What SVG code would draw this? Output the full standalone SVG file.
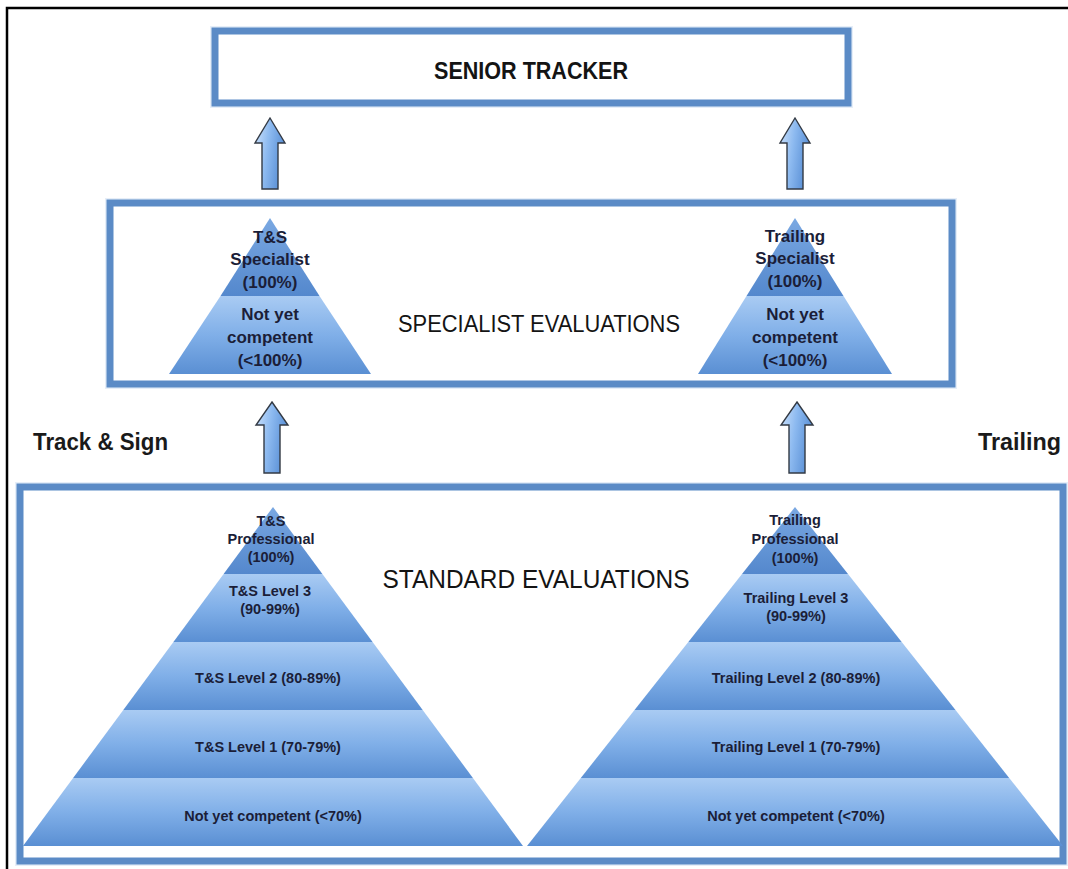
<svg xmlns="http://www.w3.org/2000/svg" width="1068" height="869" viewBox="0 0 1068 869">
<defs>
<linearGradient id="gBand" x1="0" y1="0" x2="0" y2="1">
<stop offset="0" stop-color="#a9cbf3"/>
<stop offset="0.5" stop-color="#80afe8"/>
<stop offset="1" stop-color="#5a8fd3"/>
</linearGradient>
<linearGradient id="gTip" x1="0" y1="0" x2="0" y2="1">
<stop offset="0" stop-color="#7aa8e2"/>
<stop offset="1" stop-color="#5488cd"/>
</linearGradient>
<linearGradient id="gArrow" x1="0" y1="0" x2="1" y2="0.3">
<stop offset="0" stop-color="#cfe3fb"/>
<stop offset="0.5" stop-color="#8dbaf0"/>
<stop offset="1" stop-color="#5a90d6"/>
</linearGradient>
<style>
.box{fill:#ffffff;stroke:#5b8bc6;stroke-width:7}
.halo{fill:none;stroke:#e6eef8;stroke-width:10}
.band{fill:url(#gBand)}
.tip{fill:url(#gTip)}
.arrow{fill:url(#gArrow);stroke:#333a44;stroke-width:1.4;stroke-linejoin:miter}
.lbl{font-family:"Liberation Sans",Arial,sans-serif;font-weight:bold;fill:#1b1e38;text-anchor:middle}
.big{font-family:"Liberation Sans",Arial,sans-serif;fill:#141414;text-anchor:middle}
.side{font-family:"Liberation Sans",Arial,sans-serif;font-weight:bold;fill:#1a1a1a}
</style>
</defs>
<rect width="1068" height="869" fill="#ffffff"/>
<path d="M7,869 V8 H1068" fill="none" stroke="#000000" stroke-width="2.5"/>

<g id="senior-tracker">
<rect class="halo" x="215" y="31" width="633" height="72"/>
<rect class="box" x="215" y="31" width="633" height="72"/>
<text class="big" x="531" y="79" font-size="23" font-weight="bold" textLength="194" lengthAdjust="spacingAndGlyphs">SENIOR TRACKER</text>
</g>

<g id="specialist-box">
<rect class="halo" x="110" y="203" width="842" height="181"/>
<rect class="box" x="110" y="203" width="842" height="181"/>
<text class="big" x="539" y="332" font-size="23" textLength="282" lengthAdjust="spacingAndGlyphs">SPECIALIST EVALUATIONS</text>
</g>

<g id="specialist-ts">
<polygon class="tip" points="270,218 319.5,296 220.5,296"/>
<polygon class="band" points="220.5,296 319.5,296 371,374 169,374"/>
<text class="lbl" font-size="17" x="270" y="243">T&amp;S</text>
<text class="lbl" font-size="17" x="270" y="265">Specialist</text>
<text class="lbl" font-size="17" x="270" y="288">(100%)</text>
<text class="lbl" font-size="17" x="270" y="320">Not yet</text>
<text class="lbl" font-size="17" x="270" y="343">competent</text>
<text class="lbl" font-size="17" x="270" y="366">(&lt;100%)</text>
</g>

<g id="specialist-trailing">
<polygon class="tip" points="795,218 843.5,296 746.5,296"/>
<polygon class="band" points="746.5,296 843.5,296 892,374 698,374"/>
<text class="lbl" font-size="17" x="795" y="242">Trailing</text>
<text class="lbl" font-size="17" x="795" y="264">Specialist</text>
<text class="lbl" font-size="17" x="795" y="287">(100%)</text>
<text class="lbl" font-size="17" x="795" y="320">Not yet</text>
<text class="lbl" font-size="17" x="795" y="343">competent</text>
<text class="lbl" font-size="17" x="795" y="366">(&lt;100%)</text>
</g>

<g id="standard-box">
<rect class="halo" x="20" y="487" width="1043" height="374"/>
<rect class="box" x="20" y="487" width="1043" height="374"/>
<text class="big" x="536" y="588" font-size="25" textLength="307" lengthAdjust="spacingAndGlyphs">STANDARD EVALUATIONS</text>
</g>

<g id="standard-ts">
<polygon class="tip" points="273,507 322.4,574 223.6,574"/>
<polygon class="band" points="223.6,574 322.4,574 372.6,642 173.4,642"/>
<polygon class="band" points="173.4,642 372.6,642 422.7,710 123.3,710"/>
<polygon class="band" points="123.3,710 422.7,710 472.9,778 73.1,778"/>
<polygon class="band" points="73.1,778 472.9,778 523,846 23,846"/>
<text class="lbl" font-size="14.5" x="271" y="526">T&amp;S</text>
<text class="lbl" font-size="14.5" x="271" y="544">Professional</text>
<text class="lbl" font-size="14.5" x="271" y="562">(100%)</text>
<text class="lbl" font-size="14.5" x="270" y="596">T&amp;S Level 3</text>
<text class="lbl" font-size="14.5" x="270" y="614">(90-99%)</text>
<text class="lbl" font-size="14.5" x="268" y="683">T&amp;S Level 2 (80-89%)</text>
<text class="lbl" font-size="14.5" x="268" y="752">T&amp;S Level 1 (70-79%)</text>
<text class="lbl" font-size="14.5" x="273" y="821">Not yet competent (&lt;70%)</text>
</g>

<g id="standard-trailing">
<polygon class="tip" points="795,507 848,574 742,574"/>
<polygon class="band" points="742,574 848,574 901.7,642 688.3,642"/>
<polygon class="band" points="688.3,642 901.7,642 955.5,710 634.5,710"/>
<polygon class="band" points="634.5,710 955.5,710 1009.2,778 580.8,778"/>
<polygon class="band" points="580.8,778 1009.2,778 1063,846 527,846"/>
<text class="lbl" font-size="14.5" x="795" y="525">Trailing</text>
<text class="lbl" font-size="14.5" x="795" y="544">Professional</text>
<text class="lbl" font-size="14.5" x="795" y="563">(100%)</text>
<text class="lbl" font-size="14.5" x="796" y="603">Trailing Level 3</text>
<text class="lbl" font-size="14.5" x="796" y="621">(90-99%)</text>
<text class="lbl" font-size="14.5" x="796" y="683">Trailing Level 2 (80-89%)</text>
<text class="lbl" font-size="14.5" x="796" y="752">Trailing Level 1 (70-79%)</text>
<text class="lbl" font-size="14.5" x="796" y="821">Not yet competent (&lt;70%)</text>
</g>

<g id="labels">
<text class="side" x="33" y="450" font-size="23" textLength="135" lengthAdjust="spacingAndGlyphs">Track &amp; Sign</text>
<text class="side" x="978" y="450" font-size="23" textLength="83" lengthAdjust="spacingAndGlyphs">Trailing</text>
</g>

<g id="connectors">
<path class="arrow" d="M270,118 L285,143 L278,143 L278,189 L262,189 L262,143 L255,143 Z"/>
<path class="arrow" d="M795,118 L810,143 L803,143 L803,189 L787,189 L787,143 L780,143 Z"/>
<path class="arrow" d="M272,402 L288,425 L280,425 L280,473 L264,473 L264,425 L256,425 Z"/>
<path class="arrow" d="M797,402 L813,425 L805,425 L805,473 L789,473 L789,425 L781,425 Z"/>
</g>
</svg>
